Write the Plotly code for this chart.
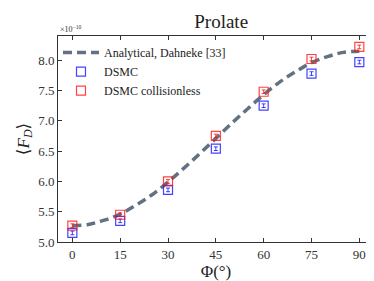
import plotly.graph_objects as go

phi = [0, 15, 30, 45, 60, 75, 90]
dsmc = [5.15, 5.35, 5.86, 6.54, 7.25, 7.78, 7.97]
dsmc_err = [0.03, 0.03, 0.03, 0.03, 0.03, 0.03, 0.03]
dsmc_cl = [5.27, 5.45, 6.00, 6.75, 7.48, 8.02, 8.22]
dsmc_cl_err = [0.03, 0.03, 0.03, 0.03, 0.03, 0.03, 0.03]
phi_an = [0, 5, 10, 15, 20, 25, 30, 35, 40, 45, 50, 55, 60, 65, 70, 75, 80, 85, 90]
an = [5.27, 5.29, 5.36, 5.46, 5.61, 5.78, 5.99, 6.22, 6.46, 6.71, 6.96, 7.20,
      7.43, 7.64, 7.81, 7.96, 8.06, 8.13, 8.15]
xticks = [0, 15, 30, 45, 60, 75, 90]
yticks = [5.0, 5.5, 6.0, 6.5, 7.0, 7.5, 8.0]

FONT = "Liberation Serif, DejaVu Serif, Times New Roman, serif"

fig = go.Figure()
fig.add_trace(go.Scatter(
    x=phi_an, y=an, mode="lines", name="Analytical, Dahneke [33]",
    line=dict(color="#627282", width=3.5, dash="9px,5px", shape="spline"),
))
fig.add_trace(go.Scatter(
    x=phi, y=dsmc, mode="markers", name="DSMC",
    marker=dict(symbol="square-open", size=9, color="rgba(20,20,255,0.8)", line=dict(width=1.2)),
    error_y=dict(type="data", array=dsmc_err, color="rgba(20,20,255,0.8)", thickness=1, width=2),
))
fig.add_trace(go.Scatter(
    x=phi, y=dsmc_cl, mode="markers", name="DSMC collisionless",
    marker=dict(symbol="square-open", size=9, color="rgba(255,20,20,0.8)", line=dict(width=1.2)),
    error_y=dict(type="data", array=dsmc_cl_err, color="rgba(255,20,20,0.8)", thickness=1, width=2),
))

axis_common = dict(
    showline=True, linecolor="#333", linewidth=1, mirror="ticks",
    ticks="inside", ticklen=4, tickcolor="#333", showgrid=False, zeroline=False,
    tickfont=dict(family=FONT, size=13, color="#333"),
)
fig.update_xaxes(range=[-4.5, 94.6], tickvals=xticks, ticktext=[str(v) for v in xticks],
                 title=dict(text="Φ(°)", font=dict(family=FONT, size=17, color="#222"), standoff=2),
                 **axis_common)
fig.update_yaxes(range=[5.0, 8.4], tickvals=yticks, ticktext=[f"{v:.1f}" for v in yticks],
                 title=dict(text="⟨<i>F</i><sub><i>D</i></sub>⟩", font=dict(family=FONT, size=17, color="#222"), standoff=4),
                 **axis_common)

fig.update_layout(
    width=374, height=281,
    margin=dict(l=50, r=8, t=28, b=47),
    paper_bgcolor="white", plot_bgcolor="white",
    title=dict(text="Prolate", x=0.57, xanchor="center", y=0.975, yanchor="top",
               font=dict(family=FONT, size=19, color="#222")),
    font=dict(family=FONT),
    legend=dict(x=0.0, y=0.99, xanchor="left", yanchor="top", bgcolor="rgba(255,255,255,0)",
                font=dict(family=FONT, size=12, color="#222"), tracegroupgap=0, itemwidth=36),
    showlegend=True,
    annotations=[dict(text="×10<sup>−10</sup>", x=0, y=1, xref="paper", yref="paper",
                      xanchor="left", yanchor="bottom", showarrow=False,
                      font=dict(family=FONT, size=8, color="#333"))],
)

fig.write_html("out.html")
